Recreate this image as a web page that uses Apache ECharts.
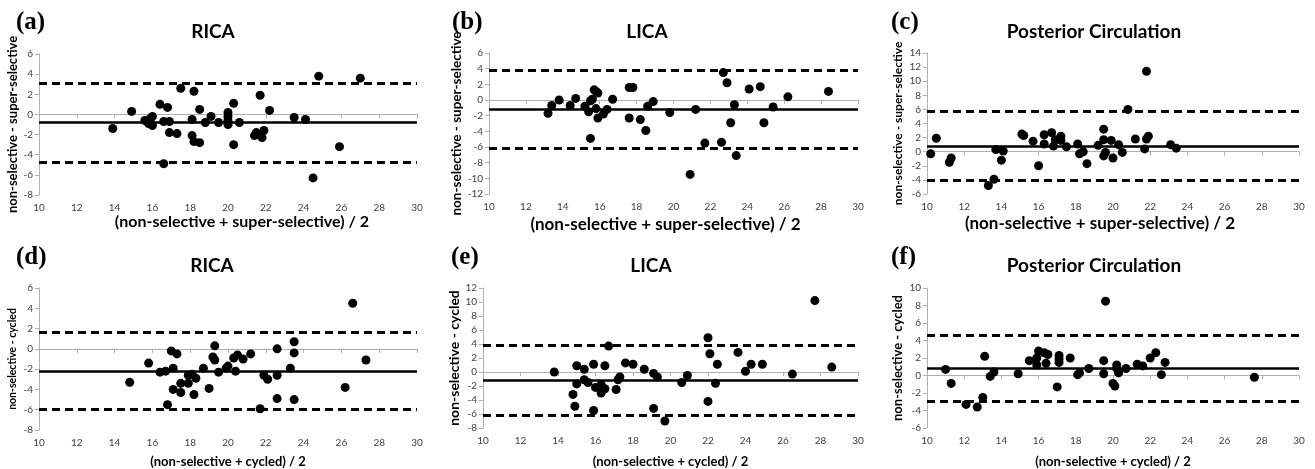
<!DOCTYPE html>
<html>
<head>
<meta charset="utf-8">
<script src="https://cdn.jsdelivr.net/npm/echarts@6/dist/echarts.min.js"></script>
<style>
  html, body { margin: 0; padding: 0; background: #fff; }
  #chart { width: 1315px; height: 469px; }
</style>
</head>
<body>
<div id="chart"></div>
<script>
// Bland-Altman points: [mean of the two methods, difference]
const ricaSuper = [
  [13.9, -1.4], [14.9, 0.3], [15.6, -0.6], [15.8, -0.9], [15.9, -0.4], [16.0, -0.2], [16.0, -1.1],
  [16.4, 1.0], [16.6, -0.7], [16.6, -4.9], [16.8, 0.7], [16.9, -1.8], [16.9, -0.7], [17.3, -1.9],
  [17.5, 2.6], [18.1, -0.5], [18.1, -2.1], [18.2, 2.3], [18.2, -2.7], [18.5, 0.5], [18.5, -2.8],
  [18.8, -0.8], [19.1, -0.2], [19.5, -0.8], [20.0, 0.2], [20.0, -0.2], [20.0, -0.6], [20.0, -1.0],
  [20.3, 1.1], [20.3, -3.0], [20.6, -0.8], [21.4, -2.1], [21.5, -1.8], [21.7, 1.9], [21.8, -2.3],
  [21.9, -1.6], [22.2, 0.4], [23.5, -0.3], [24.1, -0.5], [24.5, -6.3], [24.8, 3.8], [25.9, -3.2],
  [27.0, 3.6]
]
const licaSuper = [
  [13.2, -1.7], [13.4, -0.7], [13.8, 0.0], [14.4, -0.7], [14.7, 0.2], [15.2, -0.8], [15.4, -1.5],
  [15.5, -0.1], [15.5, -4.9], [15.6, 0.1], [15.7, 1.3], [15.8, 1.1], [15.8, -1.1], [15.9, 0.9],
  [15.9, -2.3], [16.2, -1.8], [16.4, -1.2], [16.7, 0.1], [17.6, -2.3], [17.6, 1.6], [17.8, 1.6],
  [18.2, -2.5], [18.5, -3.9], [18.6, -0.8], [18.9, -0.2], [19.8, -1.6], [20.9, -9.5], [21.2, -1.2],
  [21.7, -5.5], [22.6, -5.4], [22.7, 3.5], [22.9, 2.2], [23.1, -2.9], [23.3, -0.6], [23.4, -7.1],
  [24.1, 1.4], [24.7, 1.7], [24.9, -2.9], [25.4, -0.9], [26.2, 0.4], [28.4, 1.1]
]
const postSuper = [
  [10.2, -0.3], [10.5, 1.9], [11.2, -1.5], [11.3, -0.9], [13.3, -4.8], [13.6, -3.9], [13.7, 0.3],
  [14.0, -1.2], [14.1, 0.1], [15.1, 2.5], [15.2, 2.3], [15.7, 1.5], [16.0, -2.0], [16.3, 2.4],
  [16.3, 1.1], [16.7, 2.7], [16.8, 0.8], [16.9, 1.7], [17.2, 1.6], [17.2, 2.2], [17.5, 0.7],
  [18.1, 1.1], [18.2, -0.3], [18.4, 0.0], [18.6, -1.7], [19.2, 0.9], [19.5, 1.7], [19.5, -0.6],
  [19.5, 3.2], [19.6, -0.1], [19.9, 1.6], [20.0, -0.9], [20.3, 1.0], [20.5, -0.1], [20.8, 6.0],
  [21.2, 1.8], [21.7, 0.4], [21.8, 1.8], [21.9, 2.2], [21.8, 11.4], [23.1, 1.0], [23.4, 0.5]
]
const ricaCycled = [
  [14.8, -3.3], [15.8, -1.4], [16.4, -2.3], [16.7, -2.2], [16.8, -5.5], [17.0, -0.2], [17.1, -1.9],
  [17.1, -4.0], [17.3, -0.5], [17.5, -3.4], [17.5, -4.3], [17.9, -2.6], [17.9, -3.4], [18.1, -2.5],
  [18.2, -4.5], [18.3, -2.9], [18.7, -1.9], [19.0, -3.9], [19.2, -0.8], [19.3, -1.1], [19.3, 0.3],
  [19.5, -2.3], [19.9, -1.9], [20.0, -1.7], [20.3, -0.9], [20.4, -2.2], [20.5, -0.6], [20.8, -1.0],
  [21.2, -0.5], [21.7, -5.9], [21.9, -2.6], [22.1, -3.0], [22.6, 0.0], [22.6, -2.6], [22.6, -4.9],
  [23.3, -1.9], [23.5, 0.7], [23.5, -0.4], [23.5, -5.0], [26.2, -3.8], [26.6, 4.5], [27.3, -1.1]
]
const licaCycled = [
  [13.8, 0.0], [14.8, -3.2], [14.9, -4.9], [15.0, -1.7], [15.0, 0.9], [15.4, 0.4], [15.4, -1.1],
  [15.6, -1.5], [15.9, 1.1], [15.9, -5.5], [16.0, -2.2], [16.3, -1.8], [16.3, -3.0], [16.5, 0.9],
  [16.5, -2.4], [16.7, 3.7], [17.1, -2.5], [17.2, -1.1], [17.3, -0.7], [17.6, 1.3], [18.0, 1.1],
  [18.6, 0.4], [19.1, -0.2], [19.1, -5.2], [19.3, -0.7], [19.7, -7.0], [20.6, -1.5], [20.9, -0.5],
  [22.0, 4.9], [22.0, -4.2], [22.1, 2.6], [22.4, -1.6], [22.5, 1.1], [23.6, 2.8], [24.0, 0.1],
  [24.3, 1.1], [24.9, 1.1], [26.5, -0.3], [27.7, 10.2], [28.6, 0.7]
]
const postCycled = [
  [11.0, 0.7], [11.3, -0.9], [12.1, -3.3], [12.7, -3.6], [13.0, -2.5], [13.1, 2.2], [13.4, -0.1],
  [13.6, 0.4], [14.9, 0.2], [15.5, 1.7], [15.9, 2.0], [15.9, 1.2], [16.0, 2.8], [16.3, 2.6],
  [16.4, 1.4], [16.5, 2.4], [17.1, 2.3], [17.1, 1.9], [17.1, 1.5], [17.0, -1.3], [17.7, 2.0],
  [18.1, 0.1], [18.2, 0.3], [18.7, 0.8], [19.5, 1.7], [19.5, 0.2], [19.6, 8.5], [20.0, -0.9],
  [20.1, -1.2], [20.2, 1.2], [20.2, 0.8], [20.3, 0.3], [20.7, 0.8], [21.3, 1.3], [21.6, 1.1],
  [22.0, 2.0], [22.3, 2.6], [22.6, 0.1], [22.8, 1.5], [27.6, -0.2]
]

// mean difference and limits of agreement, per panel (a)..(f)
const meanDiff = [-0.8, -1.2, 0.8, -2.2, -1.2, 0.8]
const upperLimit = [3.1, 3.8, 5.8, 1.6, 3.8, 4.6]
const lowerLimit = [-4.7, -6.2, -4.1, -6.0, -6.2, -2.9]

const yMin = [-8, -12, -6, -8, -8, -6]
const yMax = [6, 6, 14, 6, 12, 10]
const xMin = 10
const xMax = 30
const tickStep = 2

const panelLetters = ['(a)', '(b)', '(c)', '(d)', '(e)', '(f)']
const panelTitles = ['RICA', 'LICA', 'Posterior Circulation', 'RICA', 'LICA', 'Posterior Circulation']
const yNames = [
  'non-selective - super-selective', 'non-selective - super-selective', 'non-selective - super-selective',
  'non-selective - cycled', 'non-selective - cycled', 'non-selective - cycled'
]
const xNames = [
  '(non-selective + super-selective) / 2', '(non-selective + super-selective) / 2', '(non-selective + super-selective) / 2',
  '(non-selective + cycled) / 2', '(non-selective + cycled) / 2', '(non-selective + cycled) / 2'
]

const panels = [ricaSuper, licaSuper, postSuper, ricaCycled, licaCycled, postCycled]

// layout
const grids = [
  { left: 39, top: 54, width: 378, height: 141 },
  { left: 489, top: 53, width: 369, height: 141 },
  { left: 927, top: 53, width: 372, height: 141 },
  { left: 39, top: 288, width: 378, height: 142 },
  { left: 483, top: 288, width: 375, height: 141 },
  { left: 927, top: 288, width: 372, height: 142 }
]
const titlePos = [[213, 32], [647, 32], [1094, 32], [212, 266], [651, 266], [1094, 266]]
const letterPos = [[16, 10], [452, 10], [891, 10], [16, 245], [451, 245], [891, 245]]
const yNameSize = [13, 13.5, 12, 10.5, 14, 13]
const yNameGap = [17, 24, 23, 21, 18, 23]
const xNameSize = [16, 17, 17, 13, 13, 13]
const xNameGap = [18, 22, 21, 25, 27, 27]
const xNamePad = [[0, 0, 0, 28], [0, 16, 0, 0], [0, 26, 0, 0], 0, 0, 0]

const axisGray = '#b0b0b0'
const labelStyle = { fontFamily: 'Lato', fontSize: 10, color: '#404040' }

const chart = echarts.init(document.getElementById('chart'))

const titles = []
panels.forEach((_, i) => {
  titles.push({
    text: panelLetters[i],
    left: letterPos[i][0],
    top: letterPos[i][1],
    padding: 0,
    textStyle: { fontFamily: 'Liberation Serif', fontWeight: 'bold', fontSize: 25, color: '#000' }
  })
  titles.push({
    text: panelTitles[i],
    left: titlePos[i][0],
    top: titlePos[i][1],
    padding: 0,
    textAlign: 'center',
    textVerticalAlign: 'middle',
    textStyle: { fontFamily: 'Lato', fontWeight: 'bold', fontSize: 19, color: '#000' }
  })
})

const option = {
  animation: false,
  backgroundColor: '#fff',
  title: titles,
  grid: grids,
  xAxis: panels.map((_, i) => ({
    type: 'value',
    gridIndex: i,
    min: xMin,
    max: xMax,
    interval: tickStep,
    name: xNames[i],
    nameLocation: 'middle',
    nameGap: xNameGap[i],
    nameTextStyle: {
      fontFamily: 'Lato', fontWeight: 'bold', fontSize: xNameSize[i], color: '#000',
      padding: xNamePad[i]
    },
    axisLine: { show: true, lineStyle: { color: axisGray, width: 1 } },
    axisTick: { show: true, length: 4, lineStyle: { color: axisGray } },
    axisLabel: { ...labelStyle, margin: 8 },
    splitLine: { show: false }
  })),
  yAxis: panels.map((_, i) => ({
    type: 'value',
    gridIndex: i,
    min: yMin[i],
    max: yMax[i],
    interval: tickStep,
    name: yNames[i],
    nameLocation: 'middle',
    nameGap: yNameGap[i],
    nameTextStyle: { fontFamily: 'Lato', fontWeight: 'bold', fontSize: yNameSize[i], color: '#000' },
    axisLine: { show: true, lineStyle: { color: axisGray, width: 1 } },
    axisTick: { show: true, length: 4, lineStyle: { color: axisGray } },
    axisLabel: { ...labelStyle, margin: 6 },
    splitLine: { show: false }
  })),
  series: panels.map((pts, i) => ({
    type: 'scatter',
    xAxisIndex: i,
    yAxisIndex: i,
    data: pts,
    symbol: 'circle',
    symbolSize: 9,
    itemStyle: { color: '#000', opacity: 1 },
    markLine: {
      silent: true,
      symbol: 'none',
      label: { show: false },
      data: [
        { yAxis: meanDiff[i], lineStyle: { color: '#000', type: 'solid', width: 2.5 } },
        { yAxis: upperLimit[i], lineStyle: { color: '#000', type: [8, 5], width: 3 } },
        { yAxis: lowerLimit[i], lineStyle: { color: '#000', type: [8, 5], width: 3 } }
      ]
    }
  }))
}

chart.setOption(option)
</script>
</body>
</html>
